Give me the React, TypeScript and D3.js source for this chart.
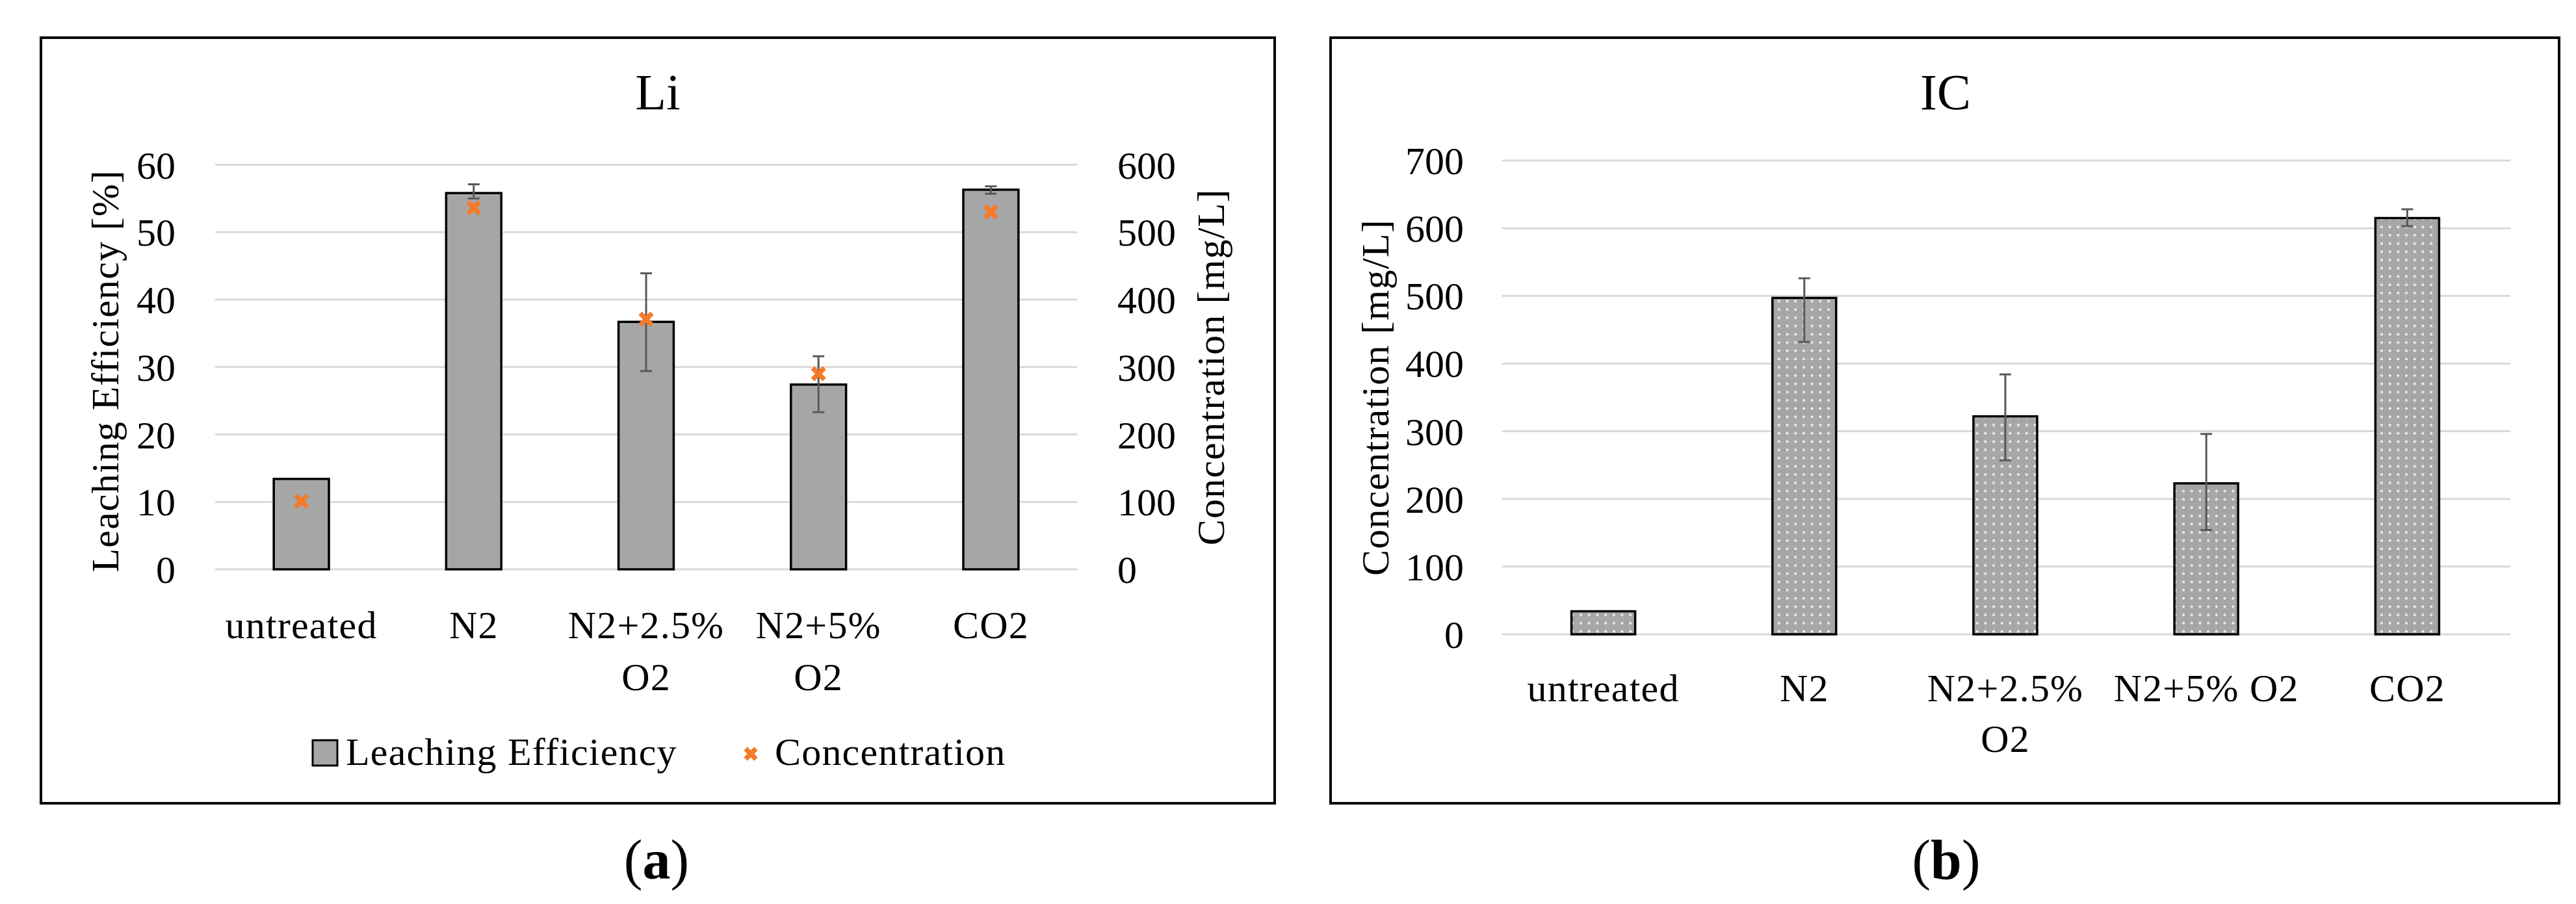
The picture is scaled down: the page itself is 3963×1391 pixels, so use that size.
import * as d3 from "d3";

// ─── Data ────────────────────────────────────────────────────────────────────
const categories = ["untreated", "N2", "N2+2.5% O2", "N2+5% O2", "CO2"];

// panel (a) — Li
const liLabels = [["untreated"], ["N2"], ["N2+2.5%", "O2"], ["N2+5%", "O2"], ["CO2"]];
const leachingEfficiency = [13.4, 55.8, 36.7, 27.4, 56.3];
const leachingLow: (number | null)[] = [null, 55.0, 29.4, 23.3, 55.7];
const leachingHigh: (number | null)[] = [null, 57.1, 43.9, 31.6, 56.8];
const liConcentration = [101, 536, 371, 290, 530];
const liLeftTicks = [0, 10, 20, 30, 40, 50, 60];
const liRightTicks = [0, 100, 200, 300, 400, 500, 600];

// panel (b) — IC
const icLabels = [["untreated"], ["N2"], ["N2+2.5%", "O2"], ["N2+5% O2"], ["CO2"]];
const icConcentration = [34, 497, 322, 223, 615];
const icLow: (number | null)[] = [null, 432, 257, 154, 603];
const icHigh: (number | null)[] = [null, 526, 384, 296, 628];
const icTicks = [0, 100, 200, 300, 400, 500, 600, 700];

// ─── Styles ──────────────────────────────────────────────────────────────────
const FONT = "'Palatino Linotype', 'Book Antiqua', Palatino, 'Liberation Serif', serif";
const FS = 60;
const LS = 1.2; // a little tracking, the original face is wider
const BAR_FILL = "#A6A6A6";
const GRID = "#D9D9D9";
const ERR = "#595959";
const ORANGE = "#F47B2A";

function XMark({ x, y, s = 9 }: { x: number; y: number; s?: number }) {
  return (
    <path
      d={`M${x - s},${y - s}L${x + s},${y + s}M${x - s},${y + s}L${x + s},${y - s}`}
      stroke={ORANGE}
      strokeWidth={7.5}
      fill="none"
    />
  );
}

function ErrorBar({ x, y1, y2 }: { x: number; y1: number; y2: number }) {
  const cap = 9;
  return (
    <g stroke={ERR} strokeWidth={3}>
      <line x1={x} x2={x} y1={y1} y2={y2} />
      <line x1={x - cap} x2={x + cap} y1={y1} y2={y1} />
      <line x1={x - cap} x2={x + cap} y1={y2} y2={y2} />
    </g>
  );
}

export default function App() {
  // ── panel (a) scales ──────────────────────────────────────────────────────
  const xA = d3
    .scaleBand<string>()
    .domain(categories)
    .range([331, 1657])
    .paddingInner(0.68)
    .paddingOuter(0.34);
  const yA = d3.scaleLinear().domain([0, 60]).range([876, 253.5]);
  const yA2 = d3.scaleLinear().domain([0, 600]).range([876, 253.5]);

  // ── panel (b) scales ──────────────────────────────────────────────────────
  const xB = d3
    .scaleBand<string>()
    .domain(categories)
    .range([2312, 3858])
    .paddingInner(0.683)
    .paddingOuter(0.3415);
  const yB = d3.scaleLinear().domain([0, 700]).range([976, 247]);

  const [a0, a1] = xA.range();
  const [b0, b1] = xB.range();

  return (
    <svg
      width={3963}
      height={1391}
      viewBox="0 0 3963 1391"
      style={{ position: "absolute", left: 0, top: 0, background: "#fff" }}
      fontFamily={FONT}
    >
      <defs>
        <pattern id="dots" width={12.7} height={12.7} patternUnits="userSpaceOnUse">
          <rect width={12.7} height={12.7} fill={BAR_FILL} />
          <rect x={4.6} y={4.6} width={3.5} height={3.5} fill="#fff" opacity={0.85} />
        </pattern>
      </defs>

      {/* ── Panel (a): Li ─────────────────────────────────────────────── */}
      <rect x={63} y={58} width={1898} height={1178} fill="#fff" stroke="#000" strokeWidth={4} />
      <text x={1012} y={168} fontSize={78} textAnchor="middle">Li</text>

      {liLeftTicks.map((t) => (
        <line key={`ga${t}`} x1={a0} x2={a1} y1={yA(t)} y2={yA(t)} stroke={GRID} strokeWidth={3} />
      ))}
      {liLeftTicks.map((t) => (
        <text key={`la${t}`} x={270} y={yA(t)} dy="0.35em" fontSize={FS} textAnchor="end">{t}</text>
      ))}
      {liRightTicks.map((t) => (
        <text key={`ra${t}`} x={1719} y={yA2(t)} dy="0.35em" fontSize={FS} textAnchor="start">{t}</text>
      ))}

      <text
        transform={`translate(182,${(yA(0) + yA(60)) / 2 + 6}) rotate(-90)`}
        fontSize={FS}
        letterSpacing={LS}
        textAnchor="middle"
      >
        Leaching Efficiency [%]
      </text>
      <text
        transform={`translate(1883,${(yA(0) + yA(60)) / 2}) rotate(-90)`}
        fontSize={FS}
        letterSpacing={LS}
        textAnchor="middle"
      >
        Concentration [mg/L]
      </text>

      {categories.map((c, i) => (
        <rect
          key={`ba${c}`}
          x={xA(c)!}
          y={yA(leachingEfficiency[i])}
          width={xA.bandwidth()}
          height={yA(0) - yA(leachingEfficiency[i])}
          fill={BAR_FILL}
          stroke="#000"
          strokeWidth={3.5}
        />
      ))}
      {categories.map((c, i) =>
        leachingLow[i] == null ? null : (
          <ErrorBar
            key={`ea${c}`}
            x={xA(c)! + xA.bandwidth() / 2}
            y1={yA(leachingHigh[i]!)}
            y2={yA(leachingLow[i]!)}
          />
        )
      )}
      {categories.map((c, i) => (
        <XMark key={`ma${c}`} x={xA(c)! + xA.bandwidth() / 2} y={yA2(liConcentration[i])} />
      ))}

      {categories.map((c, i) =>
        liLabels[i].map((line, j) => (
          <text
            key={`ca${c}${j}`}
            x={xA(c)! + xA.bandwidth() / 2}
            y={982 + j * 80}
            fontSize={FS}
            letterSpacing={LS}
            textAnchor="middle"
          >
            {line}
          </text>
        ))
      )}

      {/* legend */}
      <rect x={481} y={1139} width={38} height={39} fill={BAR_FILL} stroke="#000" strokeWidth={3} />
      <text x={532} y={1177} fontSize={FS} letterSpacing={LS}>Leaching Efficiency</text>
      <XMark x={1155} y={1160} s={8} />
      <text x={1192} y={1177} fontSize={FS} letterSpacing={LS}>Concentration</text>

      <text x={1010} y={1352} fontSize={86} textAnchor="middle">
        (<tspan fontWeight="bold">a</tspan>)
      </text>

      {/* ── Panel (b): IC ─────────────────────────────────────────────── */}
      <rect x={2047} y={58} width={1890} height={1178} fill="#fff" stroke="#000" strokeWidth={4} />
      <text x={2993} y={168} fontSize={78} textAnchor="middle">IC</text>

      {icTicks.map((t) => (
        <line key={`gb${t}`} x1={b0 - 1} x2={b1 + 4} y1={yB(t)} y2={yB(t)} stroke={GRID} strokeWidth={3} />
      ))}
      {icTicks.map((t) => (
        <text key={`lb${t}`} x={2252} y={yB(t)} dy="0.35em" fontSize={FS} textAnchor="end">{t}</text>
      ))}
      <text
        transform={`translate(2136,${(yB(0) + yB(700)) / 2}) rotate(-90)`}
        fontSize={FS}
        letterSpacing={LS}
        textAnchor="middle"
      >
        Concentration [mg/L]
      </text>

      {categories.map((c, i) => (
        <rect
          key={`bb${c}`}
          x={xB(c)!}
          y={yB(icConcentration[i])}
          width={xB.bandwidth()}
          height={yB(0) - yB(icConcentration[i])}
          fill="url(#dots)"
          stroke="#000"
          strokeWidth={3.5}
        />
      ))}
      {categories.map((c, i) =>
        icLow[i] == null ? null : (
          <ErrorBar
            key={`eb${c}`}
            x={xB(c)! + xB.bandwidth() / 2}
            y1={yB(icHigh[i]!)}
            y2={yB(icLow[i]!)}
          />
        )
      )}

      {categories.map((c, i) =>
        icLabels[i].map((line, j) => (
          <text
            key={`cb${c}${j}`}
            x={xB(c)! + xB.bandwidth() / 2}
            y={1079 + j * 78}
            fontSize={FS}
            letterSpacing={LS}
            textAnchor="middle"
          >
            {line}
          </text>
        ))
      )}

      <text x={2994} y={1352} fontSize={86} textAnchor="middle">
        (<tspan fontWeight="bold">b</tspan>)
      </text>
    </svg>
  );
}
